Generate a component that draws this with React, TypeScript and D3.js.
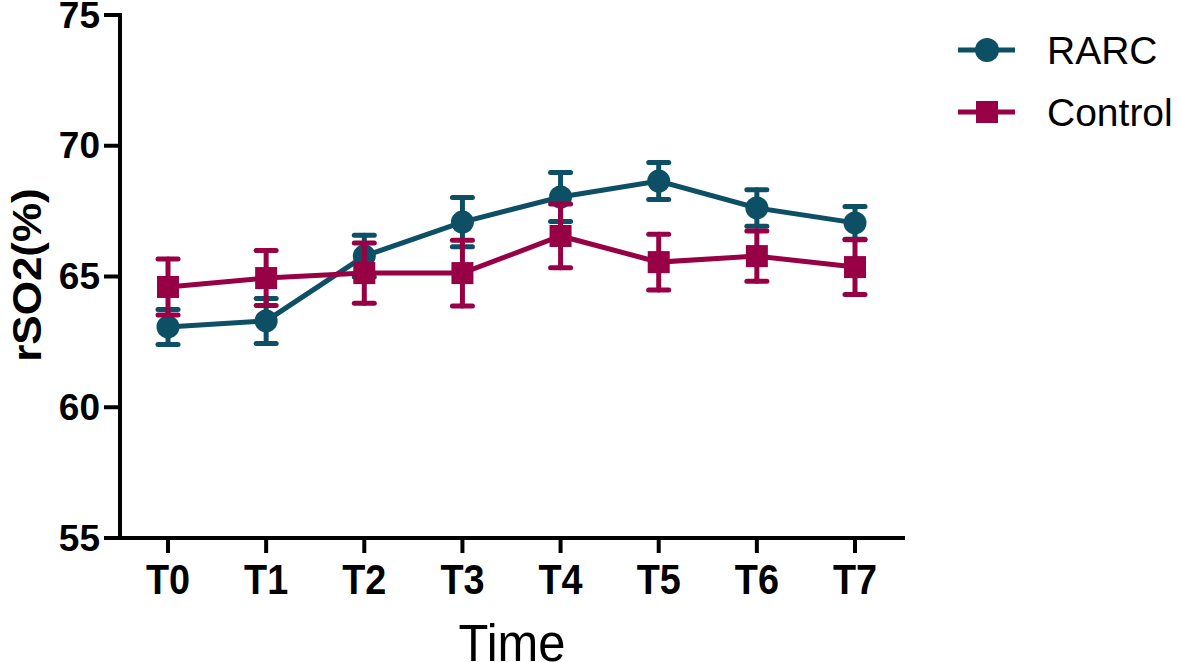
import React from "react";
import * as d3 from "d3";

const categories = ["T0", "T1", "T2", "T3", "T4", "T5", "T6", "T7"];
const rarcMean = [63.07, 63.3, 65.78, 67.08, 68.04, 68.65, 67.62, 67.05];
const rarcErr = [0.67, 0.86, 0.8, 0.94, 0.94, 0.71, 0.7, 0.63];
const controlMean = [64.6, 64.94, 65.13, 65.13, 66.55, 65.55, 65.78, 65.36];
const controlErr = [1.07, 1.05, 1.15, 1.26, 1.22, 1.07, 0.96, 1.05];
const yTicks = [55, 60, 65, 70, 75];

const TEAL = "#0d4f64";
const CRIMSON = "#980046";

const W = 1181;
const H = 662;

export default function App() {
  const x = d3.scalePoint<string>().domain(categories).range([168, 855]);
  const y = d3.scaleLinear().domain([55, 75]).range([538, 15]);
  const line = d3
    .line<number>()
    .x((_, i) => x(categories[i]) as number)
    .y((d) => y(d));

  const series = [
    { name: "RARC", mean: rarcMean, err: rarcErr, color: TEAL, shape: "circle" },
    { name: "Control", mean: controlMean, err: controlErr, color: CRIMSON, shape: "square" },
  ];

  const font = "Arial, 'Liberation Sans', Helvetica, sans-serif";

  return (
    <svg
      width={W}
      height={H}
      style={{ position: "absolute", left: 0, top: 0, background: "#fff" }}
      fontFamily={font}
    >
      {/* series */}
      {series.map((s) => (
        <g key={s.name}>
          <path d={line(s.mean) || ""} fill="none" stroke={s.color} strokeWidth={5} />
          {s.mean.map((m, i) => {
            const cx = x(categories[i]) as number;
            const top = y(m + s.err[i]);
            const bot = y(m - s.err[i]);
            return (
              <g key={i} stroke={s.color} strokeWidth={5} strokeLinecap="round">
                <line x1={cx} x2={cx} y1={top} y2={bot} />
                <line x1={cx - 10} x2={cx + 10} y1={top} y2={top} />
                <line x1={cx - 10} x2={cx + 10} y1={bot} y2={bot} />
                {s.shape === "circle" ? (
                  <circle cx={cx} cy={y(m)} r={11.5} fill={s.color} stroke="none" />
                ) : (
                  <rect x={cx - 11} y={y(m) - 11} width={22} height={22} fill={s.color} stroke="none" />
                )}
              </g>
            );
          })}
        </g>
      ))}

      {/* axes */}
      <line x1={120} x2={120} y1={y(75) - 2} y2={y(55) + 2} stroke="#000" strokeWidth={4} />
      <line x1={118} x2={905} y1={y(55)} y2={y(55)} stroke="#000" strokeWidth={4} />
      {yTicks.map((t) => (
        <g key={t}>
          <line x1={104} x2={120} y1={y(t)} y2={y(t)} stroke="#000" strokeWidth={4} />
          <text
            x={100}
            y={y(t)}
            textAnchor="end"
            dominantBaseline="central"
            fontSize={37}
            fontWeight="bold"
            fill="#000"
          >
            {t}
          </text>
        </g>
      ))}
      {categories.map((c) => {
        const cx = x(c) as number;
        return (
          <g key={c}>
            <line x1={cx} x2={cx} y1={538} y2={553} stroke="#000" strokeWidth={4} />
            <text
              transform={`translate(${cx},594) scale(0.9,1)`}
              textAnchor="middle"
              fontSize={42}
              fontWeight="bold"
              fill="#000"
            >
              {c}
            </text>
          </g>
        );
      })}

      {/* axis titles */}
      <text
        transform={`translate(512,661) scale(0.94,1)`}
        textAnchor="middle"
        fontSize={52}
        fill="#000"
      >
        Time
      </text>
      <text
        transform={`translate(41,275) rotate(-90) scale(1.1,1)`}
        textAnchor="middle"
        fontSize={40}
        fontWeight="bold"
        fill="#000"
      >
        rSO2(%)
      </text>

      {/* legend */}
      {series.map((s, i) => {
        const ly = 50 + i * 62;
        return (
          <g key={s.name}>
            <line x1={958} x2={1015} y1={ly} y2={ly} stroke={s.color} strokeWidth={5} />
            {s.shape === "circle" ? (
              <circle cx={987} cy={ly} r={12} fill={s.color} />
            ) : (
              <rect x={976} y={ly - 11} width={22} height={22} fill={s.color} />
            )}
            <text x={1047} y={ly} dominantBaseline="central" fontSize={39} fill="#000">
              {s.name}
            </text>
          </g>
        );
      })}
    </svg>
  );
}
